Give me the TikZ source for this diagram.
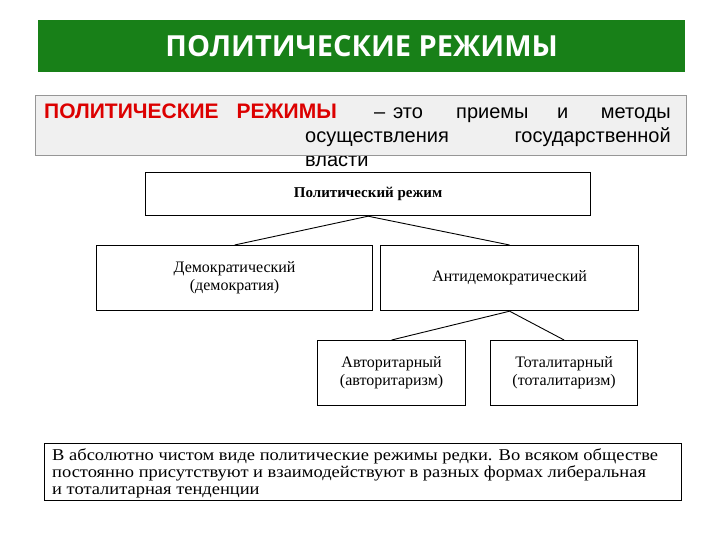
\documentclass[tikz,border=0pt]{standalone}
\usepackage{fontspec}
\setmainfont{Liberation Serif}
\setsansfont{Liberation Sans}
\newfontfamily\titlefont{Open Sans}
\newfontfamily\widefont[FakeStretch=1.12]{Liberation Serif}
\begin{document}
\begin{tikzpicture}[x=1pt,y=-1pt,
  box/.style={draw=black,line width=1.2pt,fill=white,align=center,font=\rmfamily\fontsize{16}{18}\selectfont},
  deftext/.style={anchor=base west,inner sep=0pt,font=\sffamily\fontsize{20}{22}\selectfont},
  link/.style={draw=black,line width=0.9pt}]
\useasboundingbox (0,0) rectangle (720,540);
\fill[white] (0,0) rectangle (720,540);
\node[fill={rgb,255:red,24;green,128;blue,24},minimum width=647pt,minimum height=52pt,anchor=north west,inner sep=0pt,text=white,font=\titlefont\bfseries\fontsize{29}{30}\selectfont] (title) at (38,20) {ПОЛИТИЧЕСКИЕ РЕЖИМЫ};
\node[draw={rgb,255:red,150;green,150;blue,150},fill={rgb,255:red,240;green,240;blue,240},minimum width=651pt,minimum height=60pt,anchor=north west,inner sep=0pt] (def) at (35,95) {};
\node[deftext,text={rgb,255:red,220;green,0;blue,0},font=\sffamily\bfseries\fontsize{21}{22}\selectfont] (d1) at (44,119) {ПОЛИТИЧЕСКИЕ\hspace{18pt}РЕЖИМЫ};
\node[deftext] (d2) at (374,119) {–};
\node[deftext] (d3) at (393,119) {это};
\node[deftext] (d4) at (456,119) {приемы};
\node[deftext] (d5) at (557,119) {и};
\node[deftext,anchor=base east] (d6) at (671,119) {методы};
\node[deftext] (d7) at (305,143) {осуществления};
\node[deftext,anchor=base east] (d8) at (671,143) {государственной};
\begin{scope}
\clip (0,157) rectangle (720,168);
\node[deftext] (d9) at (305,167) {власти};
\end{scope}
\node[box,minimum width=445pt,minimum height=43pt,anchor=north west,font=\rmfamily\bfseries\fontsize{15}{16}\selectfont] (top) at (145,172) {Политический режим};
\node[box,minimum width=276pt,minimum height=65pt,anchor=north west] (dem) at (96,245) {Демократический\\(демократия)};
\node[box,minimum width=258pt,minimum height=65pt,anchor=north west] (anti) at (380,245) {Антидемократический};
\node[box,minimum width=148pt,minimum height=65pt,anchor=north west] (auth) at (317,340) {Авторитарный\\(авторитаризм)};
\node[box,minimum width=147pt,minimum height=65pt,anchor=north west] (tot) at (490,340) {Тоталитарный\\(тоталитаризм)};
\draw[link] (top.south) -- (dem.north);
\draw[link] (top.south) -- (anti.north);
\draw[link] (anti.south) -- (auth.north);
\draw[link] (anti.south) -- (tot.north);
\node[draw=black,line width=1.2pt,minimum width=637pt,minimum height=57pt,anchor=north west,inner sep=0pt] (note) at (44,443) {};
\node[anchor=north west,align=left,inner sep=0pt,font=\widefont\fontsize{16.5}{17}\selectfont] (notetext) at (52,448) {В абсолютно чистом виде политические режимы редки. Во всяком обществе\\постоянно присутствуют и взаимодействуют в разных формах либеральная\\и тоталитарная тенденции};
\end{tikzpicture}
\end{document}
